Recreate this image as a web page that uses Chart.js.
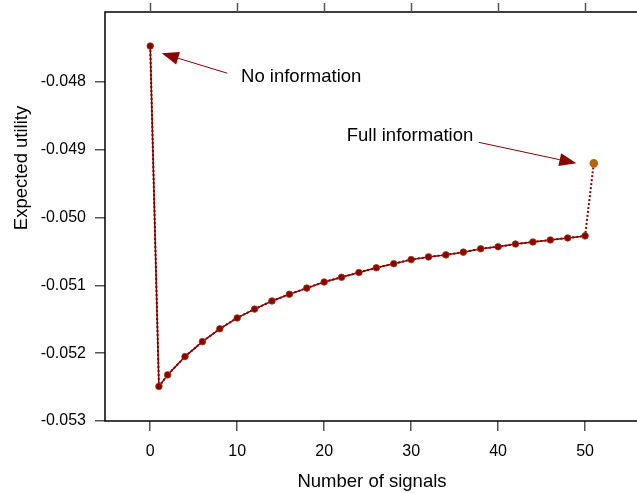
<!DOCTYPE html>
<html>
<head>
<meta charset="utf-8">
<script src="https://cdn.jsdelivr.net/npm/chart.js@4.4.1/dist/chart.umd.min.js"></script>
<style>
  html, body { margin: 0; padding: 0; background: #fff; overflow: hidden; }
  #wrap { width: 660px; height: 493px; }
</style>
</head>
<body>
<div id="wrap"><canvas id="utilitycanvas" width="660" height="493"></canvas></div>
<script>
// number of signals and expected utility
let signals = [0, 1, 2, 4, 6, 8, 10, 12, 14, 16, 18, 20, 22, 24, 26, 28, 30, 32, 34, 36, 38, 40, 42, 44, 46, 48, 50];
let utility = [-0.04747, -0.05249, -0.05232, -0.05205, -0.05183, -0.05164, -0.05148, -0.05135, -0.05123,
    -0.05113, -0.05104, -0.05095, -0.05088, -0.05081, -0.05074, -0.05068, -0.05062, -0.05058, -0.05055,
    -0.05051, -0.05046, -0.05043, -0.05039, -0.05036, -0.05033, -0.05030, -0.05027];
let fullSignals = 51;
let fullUtility = -0.04920;

let xTicks = [0, 10, 20, 30, 40, 50];
let yTicks = [-0.053, -0.052, -0.051, -0.050, -0.049, -0.048];

// annotation arrows: [label, tailX, tailY, tipX, tipY, textX, textY]
let noInfoNote = ['No information', 8.85, -0.04787, 1.33, -0.047577, 10.44, -0.047926];
let fullInfoNote = ['Full information', 37.77, -0.04889, 49.0, -0.049199, 22.6, -0.048796];

let darkRed = '#8b0000';
let goldBrown = '#b5650d';
let bigFont = '18.5px "Liberation Sans", Arial, sans-serif';

let mainPoints = signals.map((s, i) => ({ x: s, y: utility[i] }));
let dottedPoints = mainPoints.concat([{ x: fullSignals, y: fullUtility }]);

// กรอบ + ขีดด้านบน + ชื่อแกน y
const framePlugin = {
    id: 'frame',
    afterDatasetsDraw(chart) {
        let ctx = chart.ctx;
        let a = chart.chartArea;
        let xs = chart.scales.x;
        ctx.save();
        ctx.strokeStyle = '#000';
        ctx.lineWidth = 1.5;
        ctx.strokeRect(a.left, a.top, a.right - a.left, a.bottom - a.top);
        ctx.strokeStyle = '#555';
        ctx.lineWidth = 1.5;
        xTicks.forEach(function(t) {
            let px = Math.round(xs.getPixelForValue(t)) + 0.5;
            ctx.beginPath();
            ctx.moveTo(px, a.top);
            ctx.lineTo(px, a.top - 9);
            ctx.stroke();
        });
        ctx.translate(22, 168);
        ctx.rotate(-Math.PI / 2);
        ctx.fillStyle = '#000';
        ctx.font = bigFont;
        ctx.textAlign = 'center';
        ctx.textBaseline = 'middle';
        ctx.fillText('Expected utility', 0, 0);
        ctx.restore();
    }
};

function drawArrow(chart, note) {
    let ctx = chart.ctx;
    let xs = chart.scales.x;
    let ys = chart.scales.y;
    let x1 = xs.getPixelForValue(note[1]), y1 = ys.getPixelForValue(note[2]);
    let x2 = xs.getPixelForValue(note[3]), y2 = ys.getPixelForValue(note[4]);
    let ang = Math.atan2(y2 - y1, x2 - x1);
    let headLen = 17, headW = 6.5;
    let bx = x2 - headLen * Math.cos(ang), by = y2 - headLen * Math.sin(ang);
    ctx.strokeStyle = darkRed;
    ctx.fillStyle = darkRed;
    ctx.lineWidth = 1;
    ctx.beginPath();
    ctx.moveTo(x1, y1);
    ctx.lineTo(bx, by);
    ctx.stroke();
    ctx.beginPath();
    ctx.moveTo(x2, y2);
    ctx.lineTo(bx + headW * Math.sin(ang), by - headW * Math.cos(ang));
    ctx.lineTo(bx - headW * Math.sin(ang), by + headW * Math.cos(ang));
    ctx.closePath();
    ctx.fill();
    ctx.fillStyle = '#000';
    ctx.font = bigFont;
    ctx.textAlign = 'left';
    ctx.textBaseline = 'middle';
    ctx.fillText(note[0], xs.getPixelForValue(note[5]), ys.getPixelForValue(note[6]));
}

const notePlugin = {
    id: 'notes',
    afterDatasetsDraw(chart) {
        chart.ctx.save();
        drawArrow(chart, noInfoNote);
        drawArrow(chart, fullInfoNote);
        chart.ctx.restore();
    }
};

Chart.defaults.font.family = '"Liberation Sans", Arial, sans-serif';
Chart.defaults.font.size = 16;
Chart.defaults.color = '#000';

let Canvas = document.getElementById('utilitycanvas').getContext('2d');
let lineChart = new Chart(Canvas, {
    type: 'line',
    data: {
        datasets: [{
            label: 'solid',
            data: mainPoints,
            borderColor: darkRed,
            borderWidth: 1.5,
            pointRadius: 3.3,
            pointBackgroundColor: darkRed,
            pointBorderColor: '#a0400a',
            pointBorderWidth: 0.8,
            order: 1
        }, {
            label: 'dotted',
            data: dottedPoints,
            borderColor: darkRed,
            borderWidth: 2,
            borderDash: [2, 2],
            pointRadius: ctx => ctx.dataIndex === dottedPoints.length - 1 ? 3.3 : 0,
            pointBackgroundColor: goldBrown,
            pointBorderColor: goldBrown,
            order: 2
        }]
    },
    options: {
        responsive: false,
        animation: false,
        layout: { padding: { top: 12, right: 21, left: 0, bottom: 0 } },
        plugins: { legend: { display: false }, tooltip: { enabled: false } },
        scales: {
            x: {
                type: 'linear',
                min: -5.2,
                max: 56.2,
                afterBuildTicks: s => { s.ticks = xTicks.map(v => ({ value: v })); },
                afterFit: s => { s.height = 72; s.paddingLeft = 0; s.paddingRight = 0; },
                border: { display: false },
                grid: { drawOnChartArea: false, tickLength: 10, tickColor: '#555', lineWidth: 1.5 },
                ticks: { padding: 11, maxRotation: 0, callback: v => String(v) },
                title: { display: true, text: 'Number of signals', font: { size: 18.5 }, padding: { top: 4, bottom: 0 } }
            },
            y: {
                type: 'linear',
                min: -0.053,
                max: -0.046968,
                afterBuildTicks: s => { s.ticks = yTicks.map(v => ({ value: v })); },
                afterFit: s => { s.width = 105; s.paddingTop = 0; s.paddingBottom = 0; },
                border: { display: false },
                grid: { drawOnChartArea: false, tickLength: 10, tickColor: '#555', lineWidth: 1.5 },
                ticks: { padding: 9, callback: v => v.toFixed(3) },
                title: { display: false }
            }
        }
    },
    plugins: [framePlugin, notePlugin]
});
</script>
</body>
</html>
